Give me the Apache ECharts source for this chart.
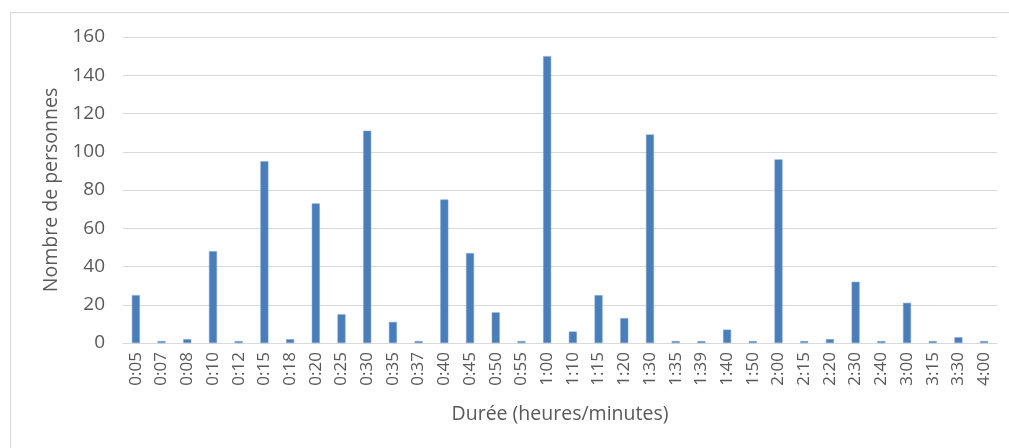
<!DOCTYPE html>
<html>
<head>
<meta charset="utf-8">
<script src="https://cdn.jsdelivr.net/npm/echarts@6/dist/echarts.min.js"></script>
<style>
html,body{margin:0;padding:0;background:#fff;}
#frame{position:absolute;left:10px;top:12px;width:1010px;height:450px;border:1px solid #d9d9d9;box-sizing:border-box;}
#chart{position:absolute;left:0;top:0;width:1009px;height:448px;}
</style>
</head>
<body>
<div id="frame"></div>
<div id="chart"></div>
<script>
const categories = ["0:05","0:07","0:08","0:10","0:12","0:15","0:18","0:20","0:25","0:30","0:35","0:37","0:40","0:45","0:50","0:55","1:00","1:10","1:15","1:20","1:30","1:35","1:39","1:40","1:50","2:00","2:15","2:20","2:30","2:40","3:00","3:15","3:30","4:00"];
const persons = [25,1,2,48,1,95,2,73,15,111,11,1,75,47,16,1,150,6,25,13,109,1,1,7,1,96,1,2,32,1,21,1,3,1];
const yTitle = "Nombre de personnes";
const xTitle = "Durée (heures/minutes)";

const font = "'Open Sans', sans-serif";
const chart = echarts.init(document.getElementById('chart'));
chart.setOption({
  animation: false,
  grid: {left: 123, right: 12, top: 37, bottom: 105},
  xAxis: {
    type: 'category',
    data: categories,
    name: xTitle,
    nameLocation: 'middle',
    nameGap: 61,
    nameTextStyle: {color: '#595959', fontSize: 19.5, fontFamily: font},
    axisLine: {lineStyle: {color: '#d9d9d9', width: 1}},
    axisTick: {show: false},
    axisLabel: {rotate: 90, interval: 0, margin: 9, color: '#595959', fontSize: 17, fontFamily: font}
  },
  yAxis: {
    type: 'value',
    min: 0, max: 160, interval: 20,
    name: yTitle,
    nameLocation: 'middle',
    nameGap: 56,
    nameTextStyle: {color: '#595959', fontSize: 19.5, fontFamily: font},
    axisLine: {show: false},
    axisTick: {show: false},
    axisLabel: {margin: 18, color: '#595959', fontSize: 19, fontFamily: font},
    splitLine: {lineStyle: {color: '#d9d9d9', width: 1}}
  },
  series: [{
    type: 'bar',
    data: persons,
    barWidth: 8,
    itemStyle: {color: '#4a7ebb', borderColor: '#7aa3d3', borderWidth: 0.5}
  }]
});
</script>
</body>
</html>
